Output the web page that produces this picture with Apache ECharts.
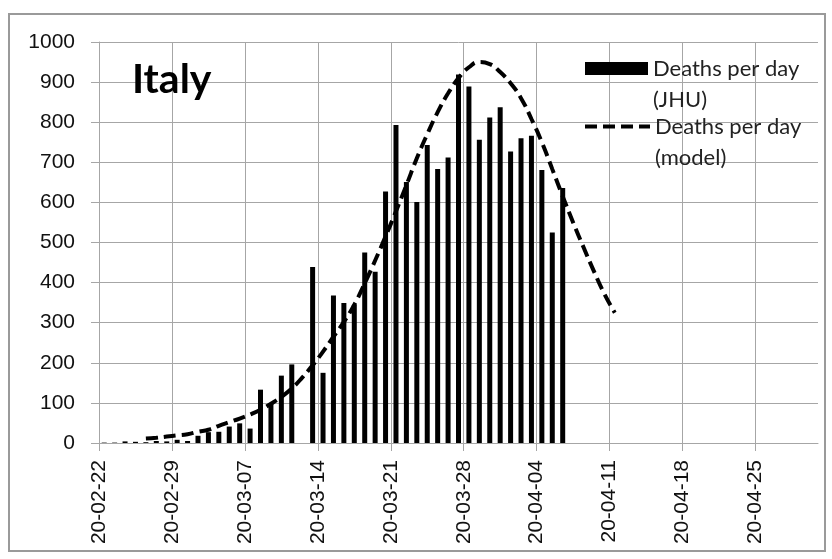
<!DOCTYPE html>
<html>
<head>
<meta charset="utf-8">
<script src="https://cdn.jsdelivr.net/npm/echarts@6/dist/echarts.min.js"></script>
<style>
  body { margin: 0; background: #fff; }
  #chart { width: 832px; height: 559px; }
</style>
</head>
<body>
<div id="chart"></div>
<script>
// day 0 = 20-02-22, one tick label every 7 days
var tickLabels = ['20-02-22', '20-02-29', '20-03-07', '20-03-14', '20-03-21',
                  '20-03-28', '20-04-04', '20-04-11', '20-04-18', '20-04-25'];

// daily deaths (JHU), 02-22 .. 04-06
var jhuDeaths = [1, 1, 4, 3, 2, 5, 4, 8,
  5, 18, 27, 28, 41, 49, 36, 133, 97, 168, 196, 0, 439, 175, 368, 349, 345,
  475, 427, 627, 793, 651, 601, 743, 683, 712, 919, 889, 756, 812, 837,
  727, 760, 766, 681, 525, 636];

// model, starts at day 4 (02-26) and runs to 04-11
var modelStartDay = 4;
var modelDeaths = [11, 13, 16, 19, 22, 28, 33, 43, 52, 61,
  71, 83, 98, 115, 136, 163, 194, 228, 265, 302,
  345, 398, 455, 515, 578, 643, 710, 770, 825, 872,
  910, 937, 950, 945, 925, 897, 860, 808, 750, 683,
  615, 550, 488, 428, 372, 325];

var nameJhu = 'Deaths per day (JHU)';
var nameModel = 'Deaths per day (model)';

var barData = [];
for (var i = 0; i < jhuDeaths.length; i++) {
  barData.push([i + 0.5, jhuDeaths[i]]);
}
var lineData = [];
for (var j = 0; j < modelDeaths.length; j++) {
  lineData.push([modelStartDay + j + 0.5, modelDeaths[j]]);
}

var font = 'Lato';
var axisFont = 'Liberation Sans';
var gridColor = '#a6a6a6';

var myChart = echarts.init(document.getElementById('chart'));

// leading empty line so the first text line sits level with the icon
function legendFormatter(n) {
  return '\n' + n.replace(' (', '\n(');
}
var legendText = {
  fontFamily: font,
  fontSize: 22,
  color: '#222',
  lineHeight: 31
};

var option = {
  animation: false,
  backgroundColor: '#fff',
  title: {
    text: 'Italy',
    left: 127,
    top: 54,
    textStyle: { fontFamily: font, fontSize: 41, fontWeight: 'bold', color: '#000' }
  },
  legend: [
    {
      data: [{ name: nameJhu, icon: 'rect' }],
      left: 585, top: 22, padding: 0,
      itemWidth: 63, itemHeight: 13, itemGap: 6,
      formatter: legendFormatter,
      textStyle: legendText
    },
    {
      data: [nameModel],
      left: 583, top: 80, padding: 0,
      itemWidth: 65, itemHeight: 13, itemGap: 6,
      lineStyle: { width: 4, type: [12, 6] },
      itemStyle: { color: 'rgba(0,0,0,0)', borderWidth: 0 },
      formatter: legendFormatter,
      textStyle: legendText
    }
  ],
  grid: { left: 99, right: 14, top: 42, bottom: 116 },
  xAxis: {
    type: 'value',
    min: 0,
    max: 69,
    interval: 7,
    axisLine: { lineStyle: { color: gridColor, width: 1 } },
    axisTick: { show: true, length: 8, lineStyle: { color: gridColor } },
    splitLine: { show: true, showMaxLine: false, lineStyle: { color: gridColor, width: 1 } },
    axisLabel: {
      rotate: 90,
      margin: 17,
      fontFamily: axisFont,
      fontSize: 21,
      color: '#111',
      showMaxLabel: false,
      formatter: function (v) {
        return v % 7 === 0 ? (tickLabels[v / 7] || '') : '';
      }
    }
  },
  yAxis: {
    type: 'value',
    min: 0,
    max: 1000,
    interval: 100,
    axisLine: { show: true, lineStyle: { color: gridColor, width: 1 } },
    axisTick: { show: true, length: 8, lineStyle: { color: gridColor } },
    splitLine: { lineStyle: { color: gridColor, width: 1 } },
    axisLabel: {
      margin: 24, fontFamily: axisFont, fontSize: 21, color: '#111',
      formatter: function (v) { return String(v); }
    }
  },
  series: [
    {
      name: nameJhu,
      type: 'bar',
      data: barData,
      barWidth: 5,
      itemStyle: { color: '#000' },
      z: 2
    },
    {
      name: nameModel,
      type: 'line',
      data: lineData,
      smooth: true,
      symbol: 'none',
      lineStyle: { color: '#000', width: 4, type: [12, 6] },
      itemStyle: { color: '#000' },
      z: 3
    }
  ],
  graphic: [
    {
      type: 'rect',
      shape: { x: 9, y: 14, width: 816, height: 537 },
      style: { fill: 'none', stroke: '#9a9a9a', lineWidth: 2 },
      silent: true,
      z: -1
    }
  ]
};

myChart.setOption(option);
</script>
</body>
</html>
